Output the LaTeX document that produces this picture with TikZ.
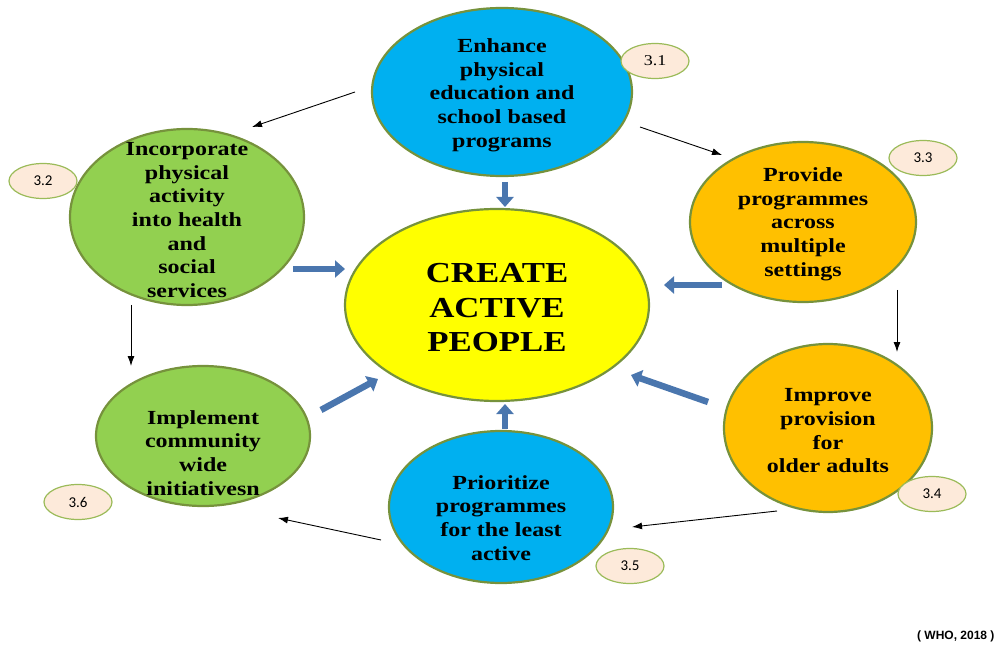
\documentclass[tikz,border=0pt]{standalone}
\usepackage{fontspec}
\setmainfont[FakeStretch=1.2]{Liberation Serif}
\setsansfont{Liberation Sans}
\newfontfamily\tagfont{Carlito}
\usetikzlibrary{shapes.geometric,arrows.meta}
\definecolor{skyblue}{HTML}{00B0F0}
\definecolor{leafgreen}{HTML}{92D050}
\definecolor{amber}{HTML}{FFC000}
\definecolor{lemon}{HTML}{FFFF00}
\definecolor{olive}{HTML}{76923C}
\definecolor{tagfill}{HTML}{FDEADA}
\definecolor{tagline}{HTML}{9BBB59}
\definecolor{steel}{HTML}{4A76AE}

\begin{document}
\begin{tikzpicture}[x=1pt, y=-1pt,
    bubble/.style={ellipse, draw=olive, line width=2.2pt, inner sep=0pt},
    words/.style={align=center, font=\fontsize{20}{23.7}\selectfont\bfseries},
    tag/.style={ellipse, draw=tagline, line width=1.2pt, fill=tagfill, minimum width=68pt, minimum height=35pt, inner sep=0pt, font=\tagfont\fontsize{15}{15}\selectfont},
    thinarrow/.style={-{Latex[length=10pt,width=7pt]}, line width=0.9pt},
    blockarrow/.style={draw=steel, line width=6.5pt, -{Triangle[length=10pt,width=17pt]}}]
    \useasboundingbox (0,0) rectangle (1002,647);

    % ellipses
    \node[bubble, fill=skyblue, minimum width=260pt, minimum height=168pt] (n31) at (502,92) {};
    \node[bubble, fill=leafgreen, minimum width=234pt, minimum height=176pt] (n32) at (187,217) {};
    \node[bubble, fill=amber, minimum width=226pt, minimum height=160pt] (n33) at (803,222) {};
    \node[bubble, fill=lemon, minimum width=304pt, minimum height=192pt] (core) at (497,305) {};
    \node[bubble, fill=amber, minimum width=208pt, minimum height=168pt] (n34) at (828,428) {};
    \node[bubble, fill=skyblue, minimum width=224pt, minimum height=152pt] (n35) at (501,507) {};
    \node[bubble, fill=leafgreen, minimum width=214pt, minimum height=140pt] (n36) at (203,436) {};

    % texts
    \node[words] (t31) at ([yshift=-3pt]n31.center) {Enhance\\physical\\education and\\school based\\programs};
    \node[words] (t32) at ([yshift=-3pt]n32.center) {Incorporate\\physical\\activity\\into health\\and\\social\\services};
    \node[words] (t33) at ([yshift=-2pt]n33.center) {Provide\\programmes\\across\\multiple\\settings};
    \node[align=center, font=\fontsize{29}{34.5}\selectfont\bfseries] (tcore) at ([yshift=-3pt]core.center) {CREATE\\ACTIVE\\PEOPLE};
    \node[words] (t34) at ([yshift=-3pt]n34.center) {Improve\\provision\\for\\older adults};
    \node[words] (t35) at ([yshift=-11pt]n35.center) {Prioritize\\programmes\\for the least\\active};
    \node[words] (t36) at ([yshift=-17pt]n36.center) {Implement\\community\\wide\\initiativesn};

    % number tags
    \node[tag, font=\fontsize{15}{15}\selectfont] (g31) at (655,61) {3.1};
    \node[tag] (g32) at (43,181) {3.2};
    \node[tag] (g33) at (923,158) {3.3};
    \node[tag] (g34) at (932,494) {3.4};
    \node[tag] (g35) at (630,566) {3.5};
    \node[tag] (g36) at (78,502) {3.6};

    % thin arrows round the cycle
    \coordinate (c1a) at (355,92);   \coordinate (c1b) at (252,127);
    \coordinate (c2a) at (640,127);  \coordinate (c2b) at (722,155);
    \coordinate (c3a) at (897,290);  \coordinate (c3b) at (897,352);
    \coordinate (c4a) at (777,511);  \coordinate (c4b) at (632,527);
    \coordinate (c5a) at (381,540);  \coordinate (c5b) at (278,518);
    \coordinate (c6a) at (131,305);  \coordinate (c6b) at (131,366);
    \foreach \k in {1,...,6} {
        \draw[thinarrow] (c\k a) -- (c\k b);
    }

    % block arrows into the core
    \coordinate (b1a) at (505,182);  \coordinate (b1b) at (505,207);
    \coordinate (b2a) at (293,269);  \coordinate (b2b) at (345,269);
    \coordinate (b3a) at (722,285);  \coordinate (b3b) at (664,285);
    \coordinate (b4a) at (708,402);  \coordinate (b4b) at (631,375);
    \coordinate (b5a) at (505,429);  \coordinate (b5b) at (505,404);
    \coordinate (b6a) at (321,410);  \coordinate (b6b) at (378,379);
    \foreach \k in {1,...,6} {
        \draw[blockarrow] (b\k a) -- (b\k b);
    }

    \node[font=\sffamily\bfseries\fontsize{12}{12}\selectfont, anchor=east] (src) at (998,636) {( WHO, 2018 )};
\end{tikzpicture}
\end{document}
